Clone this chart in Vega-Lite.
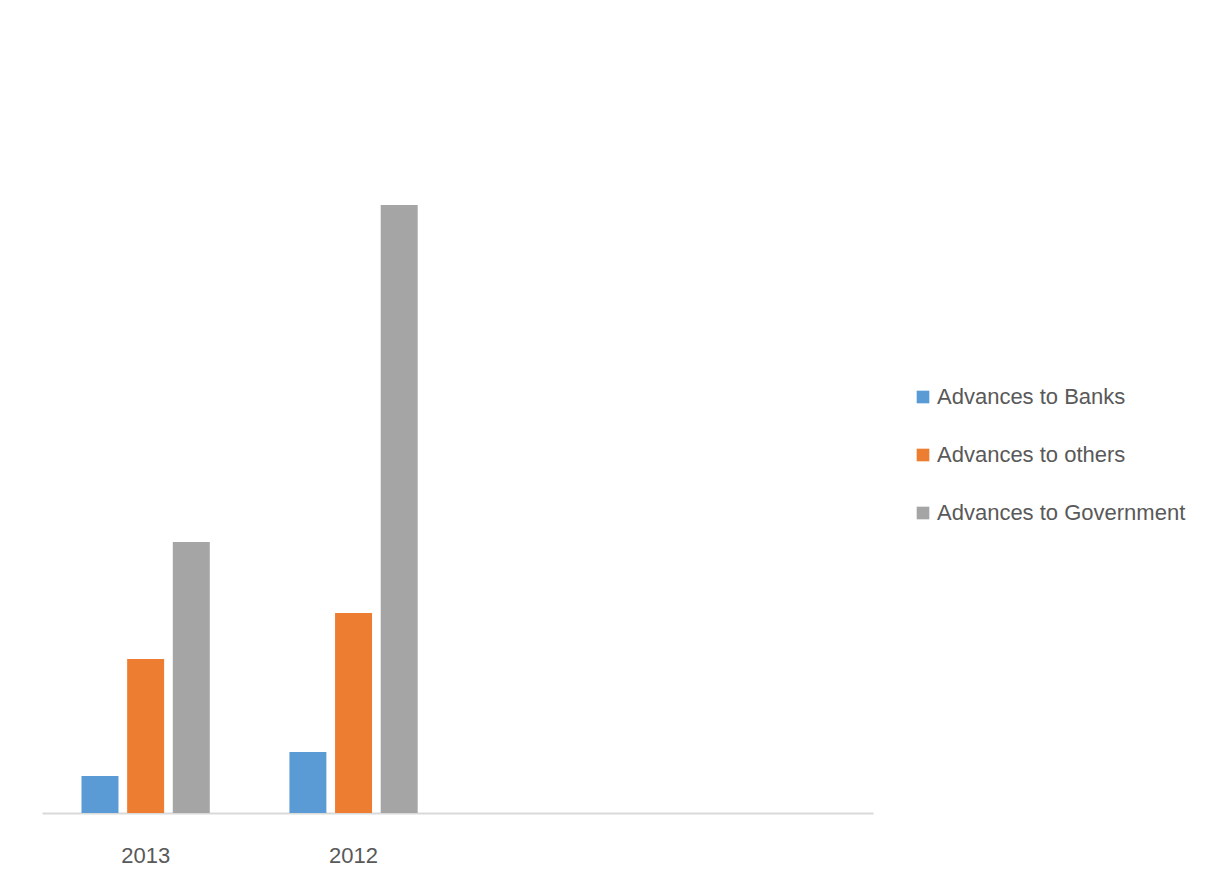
{
  "$schema": "https://vega.github.io/schema/vega-lite/v6.json",
  "width": 831,
  "height": 700,
  "autosize": {"type": "none"},
  "padding": {"left": 42, "top": 113, "right": 342, "bottom": 73},
  "background": "white",
  "config": {"view": {"stroke": null}},
  "data": {"values": [
    {"year": "2013", "series": "Advances to Banks", "value": 37},
    {"year": "2013", "series": "Advances to others", "value": 154},
    {"year": "2013", "series": "Advances to Government", "value": 271},
    {"year": "2012", "series": "Advances to Banks", "value": 61},
    {"year": "2012", "series": "Advances to others", "value": 200},
    {"year": "2012", "series": "Advances to Government", "value": 608}
  ]},
  "mark": {"type": "bar"},
  "encoding": {
    "x": {
      "field": "year", "type": "nominal",
      "scale": {"domain": ["2013", "2012", " ", "  "], "paddingInner": 0.383, "paddingOuter": 0.19},
      "axis": {"title": null, "labelAngle": 0, "ticks": false, "domainColor": "#d9d9d9", "domainWidth": 2, "labelFont": "Liberation Sans", "labelFontSize": 22, "labelColor": "#595959", "labelPadding": 32}
    },
    "xOffset": {
      "field": "series", "type": "nominal",
      "scale": {"domain": ["Advances to Banks", "Advances to others", "Advances to Government"], "paddingInner": 0.19, "paddingOuter": 0}
    },
    "y": {
      "field": "value", "type": "quantitative",
      "scale": {"domain": [0, 700]},
      "axis": null
    },
    "color": {
      "field": "series", "type": "nominal",
      "scale": {"domain": ["Advances to Banks", "Advances to others", "Advances to Government"], "range": ["#5b9bd5", "#ed7d31", "#a5a5a5"]},
      "legend": {"title": null, "orient": "none", "legendX": 870, "legendY": 273, "symbolType": "square", "symbolSize": 160, "labelFont": "Liberation Sans", "labelFontSize": 22, "labelLimit": 0, "labelColor": "#595959", "rowPadding": 36, "labelOffset": 3, "symbolStrokeWidth": 0}
    }
  }
}
